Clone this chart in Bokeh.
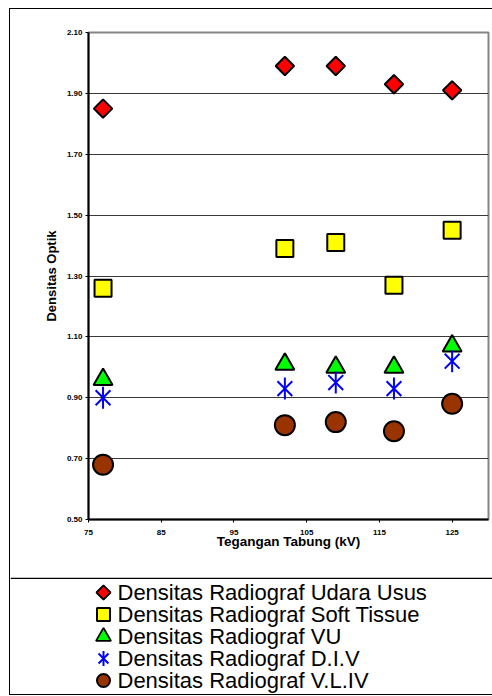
import numpy as np
from bokeh.plotting import figure
from bokeh.layouts import column, row
from bokeh.models import Range1d, FixedTicker, NumeralTickFormatter, Span, Spacer
from bokeh.core.properties import value
from bokeh.embed import file_html
from bokeh.resources import INLINE

# Tube voltage (kV) and optical density readings per region
tegangan = [77, 102, 109, 117, 125]
udara_usus = [1.85, 1.99, 1.99, 1.93, 1.91]
soft_tissue = [1.26, 1.39, 1.41, 1.27, 1.45]
vu = [0.96, 1.01, 1.00, 1.00, 1.07]
div = [0.90, 0.93, 0.95, 0.93, 1.02]
vliv = [0.68, 0.81, 0.82, 0.79, 0.88]

series_labels = [
    "Densitas Radiograf Udara Usus",
    "Densitas Radiograf Soft Tissue",
    "Densitas Radiograf VU",
    "Densitas Radiograf D.I.V",
    "Densitas Radiograf V.L.IV",
]
x_ticks = [75, 85, 95, 105, 115, 125]
y_ticks = [0.50, 0.70, 0.90, 1.10, 1.30, 1.50, 1.70, 1.90, 2.10]

FONT = "Liberation Sans"

# marker styles shared by plot and legend
STYLE = [
    dict(marker="square", angle=np.pi / 4, fill_color="#FF0000", line_color="black"),
    dict(marker="square", fill_color="#FFFF00", line_color="black"),
    dict(marker="triangle", fill_color="#00FF00", line_color="black"),
    None,  # asterisk drawn as x + vertical dash
    dict(marker="circle", fill_color="#993300", line_color="black"),
]
BLUE = "#0000FF"

# ---------------------------------------------------------------- chart
chart = figure(width=482, height=568, output_backend="svg", toolbar_location=None,
               x_range=Range1d(75, 130), y_range=Range1d(0.50, 2.10),
               min_border_left=78, min_border_right=4, min_border_top=23,
               min_border_bottom=58)
chart.background_fill_color = "white"
chart.border_fill_color = "white"
chart.outline_line_color = "#858585"
chart.outline_line_width = 2

for ax in (chart.xaxis[0], chart.yaxis[0]):
    ax.axis_line_color = "black"
    ax.axis_line_width = 2
    ax.major_tick_line_color = "black"
    ax.major_tick_line_width = 1
    ax.major_tick_in = 0
    ax.major_tick_out = 3
    ax.minor_tick_line_color = None
    ax.major_label_text_font = FONT
    ax.major_label_text_font_style = "bold"
    ax.major_label_text_font_size = "8px"
    ax.major_label_text_color = "black"
    ax.axis_label_text_font = FONT
    ax.axis_label_text_font_style = "bold"
    ax.axis_label_text_color = "black"

chart.xaxis.ticker = FixedTicker(ticks=x_ticks)
chart.xaxis.major_label_standoff = 7
chart.xaxis.axis_label = "Tegangan Tabung (kV)"
chart.xaxis.axis_label_text_font_size = "13.5px"
chart.xaxis.axis_label_standoff = -4

chart.yaxis.ticker = FixedTicker(ticks=y_ticks)
chart.yaxis.formatter = NumeralTickFormatter(format="0.00")
chart.yaxis.major_label_standoff = 3
chart.yaxis.axis_label = "Densitas Optik"
chart.yaxis.axis_label_text_font_size = "13px"
chart.yaxis.axis_label_standoff = 5

chart.xgrid.visible = False
chart.ygrid.ticker = FixedTicker(ticks=y_ticks)
chart.ygrid.grid_line_color = "#3a3a3a"
chart.ygrid.grid_line_width = 1

chart.scatter(tegangan, udara_usus, size=13, line_width=2, **STYLE[0])
chart.scatter(tegangan, soft_tissue, size=17, line_width=2, **STYLE[1])
chart.scatter(tegangan, vu, size=19, line_width=2, **STYLE[2])
chart.scatter(tegangan, div, marker="x", size=21, line_color=BLUE, line_width=2)
chart.scatter(tegangan, div, marker="dash", angle=np.pi / 2, size=22,
              line_color=BLUE, line_width=2)
chart.scatter(tegangan, vliv, size=20, line_width=2, **STYLE[4])

# ---------------------------------------------------------------- legend panel
ROW_H = 22
rows = list(range(len(series_labels)))
lg = figure(width=482, height=117, output_backend="svg", toolbar_location=None,
            x_range=Range1d(0, 482),
            y_range=Range1d((117 - 15) / ROW_H, -15 / ROW_H),
            min_border=0, x_axis_type=None, y_axis_type=None)
lg.outline_line_color = None
lg.background_fill_color = "white"
lg.border_fill_color = "white"

# the legend panel keeps its own full-width frame
for f in (chart, lg):
    if "frame_align" in f.properties():
        f.frame_align = False

sym_x = 93
lg.scatter([sym_x], [rows[0]], size=10, line_width=1.8, **STYLE[0])
lg.scatter([sym_x], [rows[1]], size=13, line_width=2, **STYLE[1])
lg.scatter([sym_x], [rows[2]], size=15, line_width=1.8, **STYLE[2])
lg.scatter([sym_x], [rows[3]], marker="x", size=14, line_color=BLUE, line_width=2)
lg.scatter([sym_x], [rows[3]], marker="dash", angle=np.pi / 2, size=15,
           line_color=BLUE, line_width=2)
lg.scatter([sym_x], [rows[4]], size=13, line_width=2, **STYLE[4])

lg.text(x=[sym_x + 14] * len(rows), y=rows, text=series_labels,
        text_font=value(FONT), text_font_size="22px", text_color="black",
        text_align="left", text_baseline="middle")

lg.add_layout(Span(location=-15 / ROW_H + 0.75 / ROW_H, dimension="width",
                   line_color="black", line_width=1.5))

# ---------------------------------------------------------------- page layout
inner = column(chart, lg, spacing=0,
               styles={"outline": "1.5px solid black"})
p = column(Spacer(height=9), row(Spacer(width=10), inner, spacing=0), spacing=0)

open("out.html", "w").write(file_html(p, INLINE))
